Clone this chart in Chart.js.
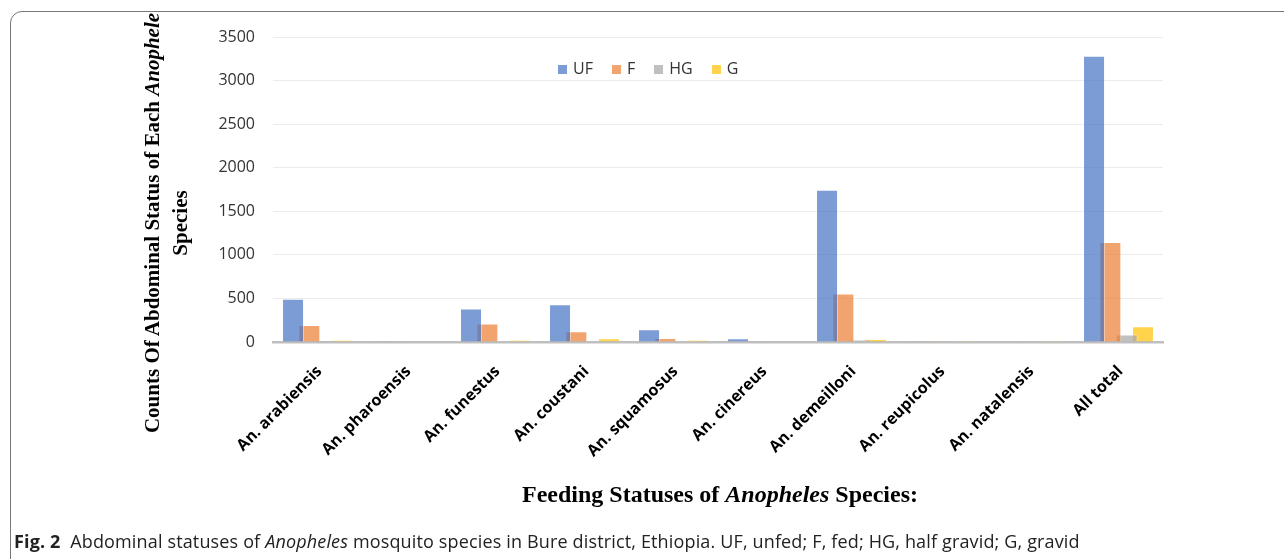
<!DOCTYPE html>
<html lang="en">
<head>
  <meta charset="UTF-8" />
  <title>Abdominal statuses of Anopheles</title>
  <style>
    * {
      margin: 0;
      padding: 0;
      box-sizing: border-box;
    }
    body {
      width: 1284px;
      height: 559px;
      overflow: hidden;
      background: #fff;
      position: relative;
      font-family: "Open Sans", Arial, sans-serif;
    }
    .frame {
      position: absolute;
      left: 10px;
      top: 11px;
      width: 1300px;
      height: 600px;
      border: 1px solid #777;
      border-radius: 12px;
    }
    #wrap {
      position: absolute;
      left: 0;
      top: 0;
      width: 1284px;
      height: 559px;
    }
    .ytitle {
      position: absolute;
      left: 166px;
      top: 223px;
      width: 480px;
      transform: translate(-50%, -50%) rotate(-90deg);
      font-family: "Liberation Serif", "Times New Roman", serif;
      font-weight: bold;
      font-size: 21px;
      line-height: 28px;
      text-align: center;
      color: #000;
    }
    .xtitle {
      position: absolute;
      left: 0;
      width: 1440px;
      top: 481px;
      text-align: center;
      font-family: "Liberation Serif", "Times New Roman", serif;
      font-weight: bold;
      font-size: 24px;
      color: #000;
    }
    .legend {
      position: absolute;
      left: 558px;
      top: 57px;
      font-size: 16px;
      color: #333;
      white-space: nowrap;
    }
    .legend span.item {
      margin-right: 19px;
    }
    .legend i {
      display: inline-block;
      width: 9px;
      height: 9px;
      margin-right: 6px;
      vertical-align: 0px;
    }
    .caption {
      position: absolute;
      left: 14px;
      top: 529px;
      font-size: 18px;
      color: #222;
      white-space: nowrap;
      letter-spacing: 0.15px;
    }
  </style>
</head>
<body>
  <div class="frame"></div>
  <div id="wrap"><canvas id="chart"></canvas></div>

  <div class="ytitle">Counts Of Abdominal Status of Each <em>Anophele</em><br>Species</div>
  <div class="xtitle">Feeding Statuses of <em>Anopheles</em> Species:</div>
  <div class="legend" id="legend"></div>
  <div class="caption"><b>Fig. 2</b>&nbsp; Abdominal statuses of <em>Anopheles</em> mosquito species in Bure district, Ethiopia. UF, unfed; F, fed; HG, half gravid; G, gravid</div>

  <script src="https://cdn.jsdelivr.net/npm/chart.js"></script>
  <script>
    // categories and values
    const species = ['An. arabiensis', 'An. pharoensis', 'An. funestus', 'An. coustani', 'An. squamosus',
                     'An. cinereus', 'An. demeilloni', 'An. reupicolus', 'An. natalensis', 'All total'];
    const seriesNames = ['UF', 'F', 'HG', 'G'];
    const uf = [495, 2, 385, 434, 146, 43, 1746, 2, 3, 3286];
    const fed = [196, 1, 212, 123, 46, 2, 557, 1, 1, 1148];
    const hg = [20, 0, 8, 5, 4, 0, 28, 0, 0, 85];
    const gravid = [25, 0, 22, 43, 23, 2, 35, 1, 1, 181];
    const yTicks = [0, 500, 1000, 1500, 2000, 2500, 3000, 3500];

    const colors = ['rgba(68,114,196,0.7)', 'rgba(237,125,49,0.7)', 'rgba(165,165,165,0.7)', 'rgba(255,192,0,0.7)'];
    const values = [uf, fed, hg, gravid];

    // html legend
    const legendEl = document.getElementById('legend');
    seriesNames.forEach((name, i) => {
      const s = document.createElement('span');
      s.className = 'item';
      s.innerHTML = '<i style="background:' + colors[i] + '"></i>' + name;
      legendEl.appendChild(s);
    });

    const ctx = document.getElementById('chart').getContext('2d');
    new Chart(ctx, {
      type: 'bar',
      data: {
        labels: species,
        datasets: seriesNames.map((name, i) => ({
          label: name,
          data: values[i],
          backgroundColor: colors[i],
          borderColor: 'rgba(255,255,255,0.45)',
          borderWidth: 1,
          categoryPercentage: 0.733,
          barPercentage: 1.35
        }))
      },
      options: {
        responsive: true,
        maintainAspectRatio: false,
        animation: false,
        layout: {
          padding: { left: 203, right: 121, top: 37, bottom: 87 }
        },
        plugins: {
          legend: { display: false },
          tooltip: { enabled: false }
        },
        scales: {
          x: {
            grid: { display: false, drawTicks: false },
            border: { color: '#bfbfbf', width: 2.5 },
            ticks: {
              minRotation: 45,
              maxRotation: 45,
              padding: 20,
              labelOffset: 2,
              color: '#000',
              font: { family: 'Open Sans', size: 16, weight: 'bold' }
            },
            afterFit: (scale) => { scale.height = 130; }
          },
          y: {
            min: 0,
            max: 3500,
            border: { display: false },
            grid: {
              color: (c) => c.tick && c.tick.value === 0 ? 'rgba(0,0,0,0)' : '#ebebeb',
              lineWidth: 1,
              drawTicks: false
            },
            afterBuildTicks: (scale) => { scale.ticks = yTicks.map(v => ({ value: v })); },
            ticks: {
              padding: 18,
              color: '#333',
              font: { family: 'Open Sans', size: 16 },
              callback: (v) => String(v)
            },
            afterFit: (scale) => { scale.width = 70; }
          }
        }
      }
    });
  </script>
</body>
</html>
